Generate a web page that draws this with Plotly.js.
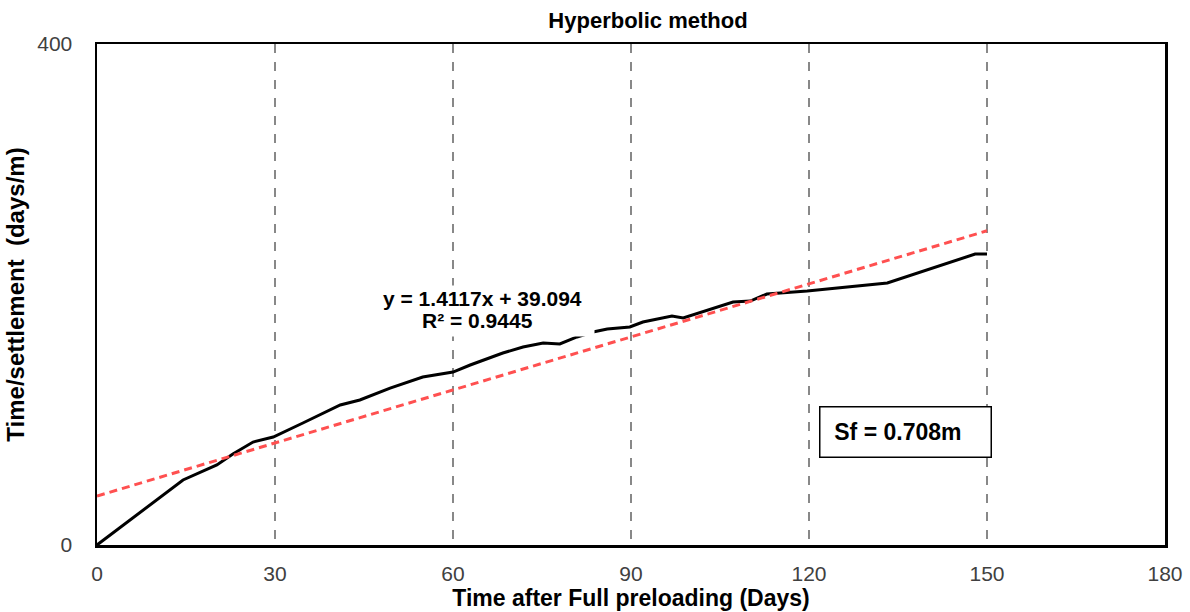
<!DOCTYPE html>
<html><head><meta charset="utf-8">
<script src="https://cdn.plot.ly/plotly-3.0.1.min.js"></script>
<style>body{margin:0;background:#fff}#chart{width:1190px;height:612px}</style>
</head><body><div id="chart"></div>
<script>
// Observed time/settlement curve
const days = [0, 14.5, 20.2, 22.9, 26.3, 29.7, 34.7, 38.1, 41.0, 44.3, 49.4, 54.9, 60.0, 62.9, 68.4, 71.8, 75.2, 78.0, 80.9, 83.6, 86.0, 89.8, 92.0, 96.9, 98.8, 107.2, 110.1, 112.9, 119.7, 133.2, 139.9, 148.0, 150.0];
const ratio = [0, 51.9, 63.9, 72.7, 82.2, 86.2, 97.4, 105.4, 111.8, 115.8, 125.3, 134.1, 138.1, 143.7, 153.3, 158.1, 161.3, 160.5, 166.1, 170.1, 172.5, 174.1, 178.0, 182.8, 181.2, 194.0, 194.8, 200.4, 202.8, 209.2, 219.6, 232.3, 232.3];
// Linear trendline endpoints (y = 1.4117x + 39.094)
const trendX = [0, 150];
const trendY = [39.094, 250.849];
const xTicks = [0, 30, 60, 90, 120, 150, 180];
const yTicks = [0, 400];

const font = 'Liberation Sans, Arial, sans-serif';
const traces = [
  {x: days, y: ratio, type: 'scatter', mode: 'lines', line: {color: '#000', width: 3}, hoverinfo: 'skip'},
  {x: trendX, y: trendY, type: 'scatter', mode: 'lines', line: {color: '#ff5050', width: 3, dash: '8px,5px'}, hoverinfo: 'skip'}
];
const layout = {
  width: 1190, height: 612,
  margin: {l: 97, r: 25, t: 44, b: 67},
  paper_bgcolor: '#fff', plot_bgcolor: '#fff',
  showlegend: false,
  font: {family: font, color: '#000'},
  title: {text: '<b>Hyperbolic method</b>', font: {size: 22, family: font, color: '#000'}, x: 0.5445, xref: 'container', y: 0.967, yref: 'container', yanchor: 'middle'},
  xaxis: {
    range: [0, 180], tickvals: xTicks, ticktext: xTicks.map(String),
    showgrid: true, gridcolor: '#888', gridwidth: 1.3, griddash: 'dash',
    zeroline: false, showline: true, linecolor: '#000', linewidth: 2.5, mirror: true,
    ticks: '', tickfont: {size: 21, color: '#404040', family: font}, ticklabelstandoff: 8,
    title: {text: '<b>Time after Full preloading (Days)</b>', font: {size: 23, color: '#000', family: font}, standoff: 4}
  },
  yaxis: {
    range: [0, 400], tickvals: yTicks, ticktext: yTicks.map(String),
    showgrid: false, zeroline: false, showline: true, linecolor: '#000', linewidth: 2.5, mirror: true,
    ticks: '', tickfont: {size: 21, color: '#404040', family: font}, ticklabelstandoff: 18,
    title: {text: '<b>Time/settlement  (days/m)</b>', font: {size: 24, color: '#000', family: font}, standoff: 6}
  },
  annotations: [
    {x: 65.73, y: 186.8, xref: 'x', yref: 'y', showarrow: false, text: ' ',
     bgcolor: '#fff', width: 214, height: 50, borderpad: 0},
    {x: 64.95, y: 197.2, xref: 'x', yref: 'y', showarrow: false,
     text: '<b>y = 1.4117x + 39.094</b>', font: {size: 21, family: font, color: '#000'}},
    {x: 64.2, y: 179.6, xref: 'x', yref: 'y', showarrow: false,
     text: '<b>R² = 0.9445</b>', font: {size: 21, family: font, color: '#000'}},
    {x: 136.2, y: 90.2, xref: 'x', yref: 'y', showarrow: false,
     text: '<b>&nbsp;&nbsp;Sf = 0.708m</b>', font: {size: 23, family: font, color: '#000'},
     bgcolor: '#fff', bordercolor: '#000', borderwidth: 1.5, width: 168, height: 47, align: 'left', borderpad: 1}
  ]
};
Plotly.newPlot('chart', traces, layout, {displayModeBar: false, staticPlot: true});
</script></body></html>
